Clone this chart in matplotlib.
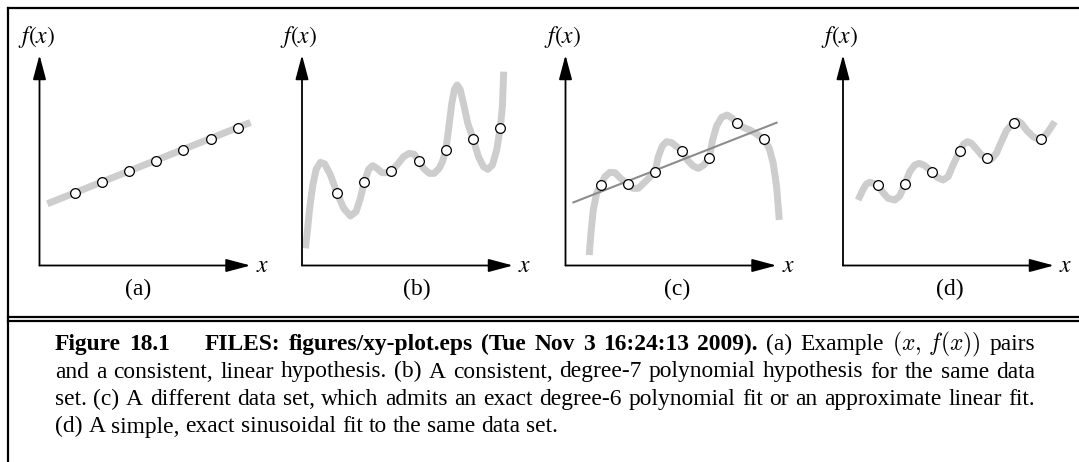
import matplotlib
matplotlib.use("Agg")
import matplotlib.pyplot as plt
from matplotlib.lines import Line2D

# ------------------------------------------------------------------ data
x_pts = [1, 2, 3, 4, 5, 6, 7]
y_ab = [2.66, 3.06, 3.46, 3.86, 4.26, 4.66, 5.06]          # data set of (a),(b)
y_cd = [2.95, 2.98, 3.44, 4.22, 3.96, 5.25, 4.64]          # data set of (c),(d)

a_line_x = [0.0, 7.47]
a_line_y = [2.27, 5.26]

b_curve_x = [-0.161, -0.088, -0.002, 0.108, 0.230, 0.389, 0.548, 0.756, 1.0,
             1.244, 1.489, 1.697, 1.856, 2.0, 2.161, 2.308, 2.467, 2.650, 2.834,
             3.0, 3.200, 3.445, 3.653, 3.836, 4.0, 4.178, 4.386, 4.570, 4.753,
             4.875, 5.0, 5.095, 5.218, 5.315, 5.413, 5.523, 5.645, 5.804, 6.0,
             6.196, 6.379, 6.538, 6.709, 6.868, 7.0, 7.076, 7.125]
b_curve_y = [0.631, 1.305, 2.163, 2.960, 3.536, 3.793, 3.732, 3.327, 2.66,
             2.102, 1.820, 1.979, 2.469, 3.06, 3.536, 3.670, 3.572, 3.413, 3.413,
             3.46, 3.695, 4.001, 4.124, 4.087, 3.86, 3.572, 3.388, 3.388, 3.572,
             3.817, 4.26, 4.982, 5.962, 6.477, 6.636, 6.477, 5.962, 5.227, 4.66,
             4.001, 3.634, 3.536, 3.695, 4.246, 5.06, 5.840, 7.126]

c_curve_x = [0.583, 0.645, 0.730, 0.853, 1.0, 1.159, 1.343, 1.527, 1.735, 2.0,
             2.201, 2.385, 2.605, 3.0, 3.120, 3.267, 3.426, 3.610, 3.794, 4.0,
             4.186, 4.407, 4.591, 4.799, 5.0, 5.118, 5.265, 5.449, 5.657, 5.841,
             6.0, 6.245, 6.490, 6.735, 7.0, 7.201, 7.348, 7.471, 7.569]
c_curve_y = [0.386, 1.183, 2.040, 2.653, 2.95, 3.266, 3.425, 3.413, 3.205, 2.98,
             2.837, 2.837, 3.045, 3.44, 4.001, 4.393, 4.553, 4.516, 4.369, 4.22,
             3.879, 3.658, 3.572, 3.695, 3.96, 4.614, 5.129, 5.447, 5.533, 5.411,
             5.25, 5.080, 4.982, 4.835, 4.64, 4.308, 3.756, 2.898, 1.673]
c_line_x = [0.0, 7.47]
c_line_y = [2.32, 5.25]

d_curve_x = [0.265, 0.449, 0.571, 0.694, 0.841, 1.0, 1.184, 1.368, 1.613, 1.797,
             1.980, 2.164, 2.348, 2.507, 2.679, 2.838, 2.998, 3.169, 3.390, 3.574,
             3.757, 4.002, 4.149, 4.284, 4.431, 4.615, 4.799, 4.983, 5.167, 5.350,
             5.534, 5.718, 5.975, 6.110, 6.269, 6.453, 6.698, 6.944, 7.189, 7.336,
             7.495]
d_curve_y = [2.408, 2.800, 2.996, 3.058, 3.021, 2.923, 2.678, 2.469, 2.408, 2.555,
             2.984, 3.450, 3.695, 3.756, 3.695, 3.572, 3.438, 3.241, 3.143, 3.266,
             3.695, 4.222, 4.467, 4.553, 4.491, 4.283, 4.063, 3.964, 3.915, 4.124,
             4.553, 4.957, 5.251, 5.325, 5.227, 4.982, 4.737, 4.614, 4.835, 5.043,
             5.288]

panel_labels = ["(a)", "(b)", "(c)", "(d)"]

caption_lines = [
    [("Figure 18.1", "bold"), ("<quad>", "quad"),
     ("FILES: figures/xy-plot.eps (Tue Nov 3 16:24:13 2009).", "bold"),
     ("(a) Example", "normal"), (r"$(x,\,f(x))$", "math"), ("pairs", "normal")],
    [("and a consistent, linear hypothesis. (b) A consistent, degree-7 polynomial "
      "hypothesis for the same data", "normal")],
    [("set. (c) A different data set, which admits an exact degree-6 polynomial fit "
      "or an approximate linear fit.", "normal")],
    [("(d) A simple, exact sinusoidal fit to the same data set.", "normal")],
]

# ------------------------------------------------------------------ layout
W, H, DPI = 1079, 462, 100
fig = plt.figure(figsize=(W / DPI, H / DPI), dpi=DPI)
fig.patch.set_facecolor("white")

UNIT = 27.2            # pixels per data unit
AX_TOP, AX_BOT = 55.0, 265.5
AX_W = 211.0
XMIN = -0.29
panel_left = [39.5, 302.0, 565.5, 843.0]
label_cx = [138, 417, 677, 950]

CURVE_COL = "#cdcdcd"
SERIF = ["Liberation Serif", "DejaVu Serif"]
LAB_FS = 17


def fx(px):
    return px / W


def fy(py):
    return 1 - py / H


arrow = dict(arrowstyle="-|>,head_length=0.6,head_width=0.16", mutation_scale=25,
             lw=1.3, color="black", shrinkA=0, shrinkB=0)

axes = []
for L in panel_left:
    ax = fig.add_axes([fx(L), fy(AX_BOT), AX_W / W, (AX_BOT - AX_TOP) / H])
    ax.set_xlim(XMIN, XMIN + AX_W / UNIT)
    ax.set_ylim(0, (AX_BOT - AX_TOP) / UNIT)
    ax.axis("off")
    ax.annotate("", xy=(1, 0), xytext=(0, 0), xycoords="axes fraction",
                textcoords="axes fraction", arrowprops=arrow)
    ax.annotate("", xy=(0, 1), xytext=(0, 0), xycoords="axes fraction",
                textcoords="axes fraction", arrowprops=arrow)
    fig.text(fx(L - 3), fy(37), r"$f(x)$", fontsize=LAB_FS, math_fontfamily="stix",
             ha="center", va="center")
    fig.text(fx(L + 223), fy(265), r"$x$", fontsize=LAB_FS, math_fontfamily="stix",
             ha="center", va="center")
    axes.append(ax)

for lab, cx in zip(panel_labels, label_cx):
    fig.text(fx(cx), fy(289), lab, fontsize=LAB_FS, family=SERIF, ha="center",
             va="center")

mk = dict(marker="o", ms=7, mfc="white", mec="black", mew=0.9, ls="none",
          zorder=5, clip_on=False)
cv = dict(color=CURVE_COL, lw=5.0, solid_capstyle="butt", solid_joinstyle="round",
          clip_on=False, zorder=2)

ax = axes[0]
ax.plot(a_line_x, a_line_y, **cv)
ax.plot(x_pts, y_ab, **mk)

ax = axes[1]
ax.plot(b_curve_x, b_curve_y, **cv)
ax.plot(x_pts, y_ab, **mk)

ax = axes[2]
ax.plot(c_curve_x, c_curve_y, **cv)
ax.plot(c_line_x, c_line_y, color="#8c8c8c", lw=1.5, zorder=3, clip_on=False)
ax.plot(x_pts, y_cd, **mk)

ax = axes[3]
ax.plot(d_curve_x, d_curve_y, **cv)
ax.plot(x_pts, y_cd, **mk)

# frame lines
blw = 1.6
fig.add_artist(Line2D([fx(7.8), fx(W)], [fy(7.8), fy(7.8)], color="black", lw=blw))
fig.add_artist(Line2D([fx(7.8), fx(7.8)], [fy(7.8), fy(H)], color="black", lw=blw))
fig.add_artist(Line2D([fx(7.8), fx(W)], [fy(316.5), fy(316.5)], color="black", lw=blw))
fig.add_artist(Line2D([fx(7.8), fx(W)], [fy(321.2), fy(321.2)], color="black", lw=blw))

# ------------------------------------------------------------------ caption
renderer = fig.canvas.get_renderer()
CAP_L, CAP_R = 55.0, 1035.0
baselines = [350.0, 377.5, 405.0, 432.5]
QUAD_EXTRA = 26.0


def make_tokens(line):
    toks = []
    for s, style in line:
        if style == "quad":
            toks.append(("", "quad"))
        elif style == "math":
            toks.append((s, "math"))
        else:
            for w in s.split(" "):
                toks.append((w, style))
    return toks


def make_text(s, style, fs):
    kw = dict(fontsize=fs, ha="left", va="baseline")
    if style == "math":
        return fig.text(0, 0, s, math_fontfamily="cm", **kw)
    return fig.text(0, 0, s, family=SERIF,
                    fontweight="bold" if style == "bold" else "normal", **kw)


def natural_width(line, fs):
    toks = make_tokens(line)
    tot = 0.0
    n = 0
    for s, style in toks:
        if style == "quad":
            tot += QUAD_EXTRA
            continue
        t = make_text(s, style, fs)
        tot += t.get_window_extent(renderer).width
        t.remove()
        n += 1
    return tot + (n - 1) * 0.25 * fs * DPI / 72


# font size: the widest justified line needs only slight stretching
base = 14.0
widest = max(natural_width(l, base) for l in caption_lines[:-1])
FS = base * (CAP_R - CAP_L - 8) / widest
space_px = 0.25 * FS * DPI / 72

for li, line in enumerate(caption_lines):
    toks = make_tokens(line)
    items = []
    for s, style in toks:
        if style == "quad":
            items.append(None)
            continue
        t = make_text(s, style, FS)
        items.append((t, t.get_window_extent(renderer).width))
    words = [it for it in items if it is not None]
    nquad = items.count(None)
    ngaps = len(words) - 1
    total = sum(w for _, w in words)
    if li < len(caption_lines) - 1:
        gap = (CAP_R - CAP_L - total - nquad * QUAD_EXTRA) / ngaps
    else:
        gap = space_px
    x = CAP_L
    first = True
    for it in items:
        if it is None:
            x += QUAD_EXTRA
            continue
        t, w = it
        if not first:
            x += gap
        t.set_position((fx(x), fy(baselines[li])))
        x += w
        first = False

fig.savefig("out.png", dpi=DPI, facecolor="white")
